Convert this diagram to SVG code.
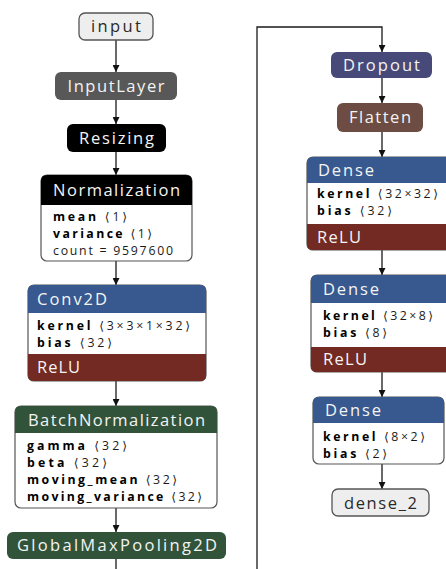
<svg xmlns="http://www.w3.org/2000/svg" width="446" height="569" viewBox="0 0 446 569">
<defs>
<marker id="arr" viewBox="0 0 10 10" refX="10" refY="5" markerWidth="7" markerHeight="7" markerUnits="userSpaceOnUse" orient="auto">
<path d="M0,0 L10,5 L0,10 Z" fill="#111"/>
</marker>
<style>
.edge{fill:none;stroke:#1a1a1a;stroke-width:1.3}
.io{fill:#eeeeee;stroke:#555;stroke-width:1.3}
.ht{font-family:"Open Sans","Noto Sans","DejaVu Sans",sans-serif;font-size:16.5px;fill:#f4f4f4}
.iot{font-family:"Open Sans","Noto Sans","DejaVu Sans",sans-serif;font-size:16.5px;fill:#2a2a2a}
.body{fill:#ffffff;stroke:#555;stroke-width:1.2}
.at{font-family:"Open Sans","Noto Sans","DejaVu Sans",sans-serif;font-size:12.3px;fill:#1a1a1a}
.b{font-weight:bold;fill:#000}
.blue{fill:#37598f}
.relu{fill:#722a22}
.green{fill:#31533a}
</style>
</defs>
<g id="connectors">
<line class="edge" x1="116" y1="40" x2="116" y2="72" marker-end="url(#arr)"/>
<line class="edge" x1="116" y1="100" x2="116" y2="124" marker-end="url(#arr)"/>
<line class="edge" x1="116" y1="152" x2="116" y2="175" marker-end="url(#arr)"/>
<line class="edge" x1="116" y1="261" x2="116" y2="285" marker-end="url(#arr)"/>
<line class="edge" x1="116" y1="381" x2="116" y2="406" marker-end="url(#arr)"/>
<line class="edge" x1="116" y1="508" x2="116" y2="532" marker-end="url(#arr)"/>
<line class="edge" x1="116" y1="559" x2="116" y2="570"/>
<polyline class="edge" points="257,570 257,27 382,27 382,52" marker-end="url(#arr)"/>
<line class="edge" x1="382" y1="78" x2="382" y2="103" marker-end="url(#arr)"/>
<line class="edge" x1="382" y1="132" x2="382" y2="157" marker-end="url(#arr)"/>
<line class="edge" x1="382" y1="250" x2="382" y2="275" marker-end="url(#arr)"/>
<line class="edge" x1="382" y1="372" x2="382" y2="397" marker-end="url(#arr)"/>
<line class="edge" x1="382" y1="464" x2="382" y2="489" marker-end="url(#arr)"/>
</g>
<g id="input">
<rect class="io" x="79" y="13" width="74" height="27" rx="6"/>
<text class="iot" x="116" y="32" text-anchor="middle" textLength="50" lengthAdjust="spacing">input</text>
</g>
<g id="InputLayer">
<rect x="55" y="72" width="122" height="28" rx="6" fill="#585858"/>
<text class="ht" x="116" y="92" text-anchor="middle" textLength="97" lengthAdjust="spacing">InputLayer</text>
</g>
<g id="Resizing">
<rect x="67" y="124" width="99" height="28" rx="6" fill="#000"/>
<text class="ht" x="116.5" y="144" text-anchor="middle" textLength="75" lengthAdjust="spacing">Resizing</text>
</g>
<g id="Normalization">
<rect class="body" x="41" y="175" width="151" height="86" rx="6"/>
<path d="M41,205 V181 Q41,175 47,175 H186 Q192,175 192,181 V205 Z" fill="#000"/>
<text class="ht" x="53" y="196" textLength="127" lengthAdjust="spacing">Normalization</text>
<text class="at" x="53" y="221" textLength="74" lengthAdjust="spacing"><tspan class="b">mean</tspan> ⟨1⟩</text>
<text class="at" x="53" y="238" textLength="99" lengthAdjust="spacing"><tspan class="b">variance</tspan> ⟨1⟩</text>
<text class="at" x="53" y="255" textLength="120" lengthAdjust="spacing">count = 9597600</text>
</g>
<g id="Conv2D">
<rect class="body" x="28" y="285" width="178" height="96" rx="6"/>
<path d="M28,313 V291 Q28,285 34,285 H200 Q206,285 206,291 V313 Z" class="blue"/>
<path d="M28,354 H206 V375 Q206,381 200,381 H34 Q28,381 28,375 Z" class="relu"/>
<text class="ht" x="37" y="305" textLength="70" lengthAdjust="spacing">Conv2D</text>
<text class="at" x="37" y="330" textLength="153" lengthAdjust="spacing"><tspan class="b">kernel</tspan> ⟨3×3×1×32⟩</text>
<text class="at" x="37" y="347" textLength="75" lengthAdjust="spacing"><tspan class="b">bias</tspan> ⟨32⟩</text>
<text class="ht" x="37" y="373" textLength="43" lengthAdjust="spacing">ReLU</text>
</g>
<g id="BatchNormalization">
<rect class="body" x="15" y="406" width="202" height="102" rx="6"/>
<path d="M15,433 V412 Q15,406 21,406 H211 Q217,406 217,412 V433 Z" class="green"/>
<text class="ht" x="28" y="426" textLength="177" lengthAdjust="spacing">BatchNormalization</text>
<text class="at" x="27" y="450" textLength="100" lengthAdjust="spacing"><tspan class="b">gamma</tspan> ⟨32⟩</text>
<text class="at" x="27" y="467" textLength="80" lengthAdjust="spacing"><tspan class="b">beta</tspan> ⟨32⟩</text>
<text class="at" x="27" y="484" textLength="150" lengthAdjust="spacing"><tspan class="b">moving_mean</tspan> ⟨32⟩</text>
<text class="at" x="27" y="501" textLength="175" lengthAdjust="spacing"><tspan class="b">moving_variance</tspan> ⟨32⟩</text>
</g>
<g id="GlobalMaxPooling2D">
<rect x="7" y="532" width="219" height="27" rx="6" class="green"/>
<text class="ht" x="17" y="551" textLength="200" lengthAdjust="spacing">GlobalMaxPooling2D</text>
</g>
<g id="Dropout">
<rect x="331" y="52" width="101" height="26" rx="6" fill="#474978"/>
<text class="ht" x="381.5" y="71" text-anchor="middle" textLength="77" lengthAdjust="spacing">Dropout</text>
</g>
<g id="Flatten">
<rect x="337" y="103" width="86" height="29" rx="6" fill="#6c4c43"/>
<text class="ht" x="380" y="123" text-anchor="middle" textLength="62" lengthAdjust="spacing">Flatten</text>
</g>
<g id="Dense">
<rect class="body" x="307" y="157" width="150" height="93" rx="6"/>
<path d="M307,183 V163 Q307,157 313,157 H451 Q457,157 457,163 V183 Z" class="blue"/>
<path d="M307,224 H457 V244 Q457,250 451,250 H313 Q307,250 307,244 Z" class="relu"/>
<text class="ht" x="318" y="176" textLength="56" lengthAdjust="spacing">Dense</text>
<text class="at" x="317" y="198" textLength="121" lengthAdjust="spacing"><tspan class="b">kernel</tspan> ⟨32×32⟩</text>
<text class="at" x="317" y="215" textLength="75" lengthAdjust="spacing"><tspan class="b">bias</tspan> ⟨32⟩</text>
<text class="ht" x="317" y="243" textLength="44" lengthAdjust="spacing">ReLU</text>
</g>
<g id="Dense_1">
<rect class="body" x="311" y="275" width="145" height="97" rx="6"/>
<path d="M311,303 V281 Q311,275 317,275 H450 Q456,275 456,281 V303 Z" class="blue"/>
<path d="M311,347 H456 V366 Q456,372 450,372 H317 Q311,372 311,366 Z" class="relu"/>
<text class="ht" x="323" y="295" textLength="56" lengthAdjust="spacing">Dense</text>
<text class="at" x="323" y="320" textLength="110" lengthAdjust="spacing"><tspan class="b">kernel</tspan> ⟨32×8⟩</text>
<text class="at" x="323" y="337" textLength="64" lengthAdjust="spacing"><tspan class="b">bias</tspan> ⟨8⟩</text>
<text class="ht" x="323" y="365" textLength="44" lengthAdjust="spacing">ReLU</text>
</g>
<g id="Dense_2">
<rect class="body" x="313" y="397" width="131" height="67" rx="6"/>
<path d="M313,423 V403 Q313,397 319,397 H438 Q444,397 444,403 V423 Z" class="blue"/>
<text class="ht" x="325" y="416" textLength="56" lengthAdjust="spacing">Dense</text>
<text class="at" x="323" y="441" textLength="102" lengthAdjust="spacing"><tspan class="b">kernel</tspan> ⟨8×2⟩</text>
<text class="at" x="323" y="458" textLength="64" lengthAdjust="spacing"><tspan class="b">bias</tspan> ⟨2⟩</text>
</g>
<g id="dense_2">
<rect class="io" x="332" y="489" width="97" height="27" rx="6"/>
<text class="iot" x="380.5" y="509" text-anchor="middle" textLength="73" lengthAdjust="spacing">dense_2</text>
</g>
</svg>
